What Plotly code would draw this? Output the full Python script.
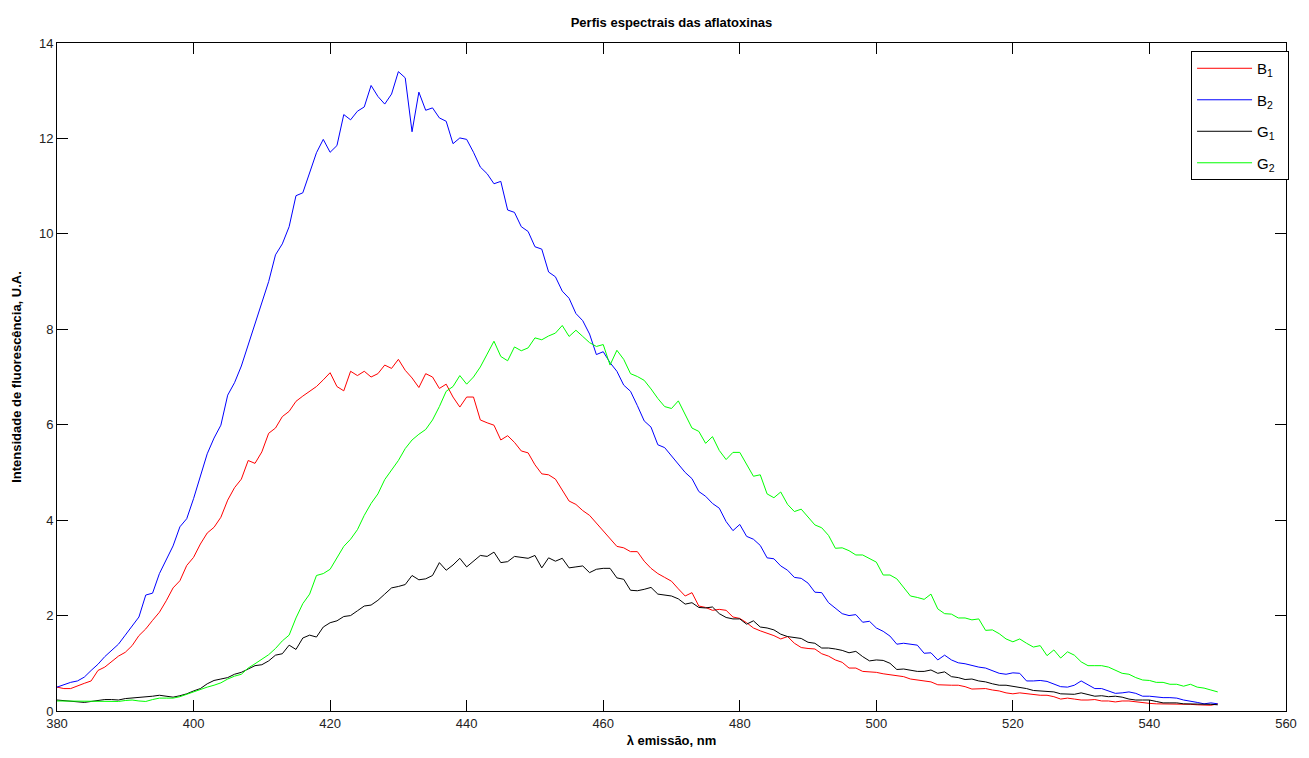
import plotly.graph_objects as go

wavelength = list(range(380, 551))

b1 = [0.50, 0.47, 0.47, 0.53, 0.58, 0.63, 0.85, 0.92, 1.03, 1.15,
      1.23, 1.37, 1.58, 1.72, 1.90, 2.07, 2.31, 2.58, 2.73, 3.05,
      3.22, 3.50, 3.73, 3.85, 4.06, 4.42, 4.68, 4.86, 5.25, 5.19,
      5.43, 5.82, 5.93, 6.17, 6.28, 6.49, 6.60, 6.70, 6.80, 6.94,
      7.09, 6.80, 6.71, 7.12, 7.03, 7.12, 7.00, 7.07, 7.25, 7.18,
      7.37, 7.14, 6.98, 6.78, 7.07, 7.00, 6.76, 6.85, 6.58, 6.37,
      6.58, 6.58, 6.10, 6.04, 5.99, 5.68, 5.77, 5.63, 5.45, 5.41,
      5.16, 4.97, 4.95, 4.86, 4.62, 4.40, 4.33, 4.20, 4.10, 3.94,
      3.78, 3.61, 3.45, 3.42, 3.34, 3.34, 3.14, 2.99, 2.88, 2.80,
      2.72, 2.56, 2.41, 2.48, 2.20, 2.17, 2.11, 2.13, 2.11, 1.97,
      1.94, 1.85, 1.74, 1.68, 1.63, 1.58, 1.51, 1.56, 1.42, 1.33,
      1.31, 1.30, 1.20, 1.15, 1.07, 1.02, 0.90, 0.90, 0.83, 0.82,
      0.81, 0.78, 0.76, 0.74, 0.72, 0.67, 0.65, 0.63, 0.61, 0.55,
      0.54, 0.54, 0.54, 0.51, 0.46, 0.46, 0.47, 0.44, 0.42, 0.38,
      0.36, 0.38, 0.36, 0.34, 0.33, 0.33, 0.30, 0.25, 0.27, 0.25,
      0.23, 0.23, 0.24, 0.21, 0.21, 0.19, 0.21, 0.21, 0.19, 0.17,
      0.16, 0.15, 0.15, 0.14, 0.14, 0.14, 0.14, 0.13, 0.12, 0.12, 0.15]

b2 = [0.50, 0.55, 0.60, 0.63, 0.71, 0.85, 0.98, 1.14, 1.28, 1.40,
      1.59, 1.77, 1.97, 2.43, 2.47, 2.88, 3.16, 3.46, 3.86, 4.03,
      4.45, 4.93, 5.39, 5.72, 5.99, 6.62, 6.88, 7.23, 7.67, 8.09,
      8.53, 9.00, 9.56, 9.79, 10.15, 10.80, 10.86, 11.30, 11.70, 11.98,
      11.71, 11.85, 12.50, 12.39, 12.57, 12.66, 13.11, 12.88, 12.72, 12.93,
      13.40, 13.27, 12.14, 12.97, 12.59, 12.64, 12.43, 12.36, 11.89, 12.01,
      11.98, 11.71, 11.40, 11.26, 11.05, 11.10, 10.50, 10.45, 10.15, 10.05,
      9.73, 9.68, 9.20, 9.10, 8.80, 8.65, 8.33, 8.18, 7.90, 7.47,
      7.53, 7.30, 7.12, 6.83, 6.70, 6.40, 6.08, 5.95, 5.58, 5.52,
      5.35, 5.19, 5.00, 4.87, 4.60, 4.50, 4.35, 4.25, 3.97, 3.78,
      3.91, 3.66, 3.60, 3.47, 3.21, 3.19, 3.04, 2.95, 2.80, 2.78,
      2.68, 2.49, 2.48, 2.27, 2.16, 2.04, 2.00, 2.02, 1.86, 1.88,
      1.74, 1.67, 1.57, 1.40, 1.42, 1.40, 1.38, 1.21, 1.22, 1.07,
      1.17, 1.07, 1.01, 0.99, 0.95, 0.92, 0.90, 0.85, 0.79, 0.77,
      0.80, 0.79, 0.63, 0.63, 0.64, 0.62, 0.57, 0.51, 0.50, 0.54,
      0.63, 0.55, 0.47, 0.47, 0.42, 0.37, 0.38, 0.40, 0.37, 0.31,
      0.31, 0.29, 0.28, 0.28, 0.27, 0.23, 0.21, 0.18, 0.15, 0.17, 0.15]

g1 = [0.23, 0.22, 0.20, 0.19, 0.18, 0.20, 0.22, 0.24, 0.24, 0.23,
      0.26, 0.27, 0.29, 0.30, 0.31, 0.33, 0.31, 0.29, 0.32, 0.36,
      0.42, 0.47, 0.57, 0.64, 0.67, 0.70, 0.77, 0.81, 0.88, 0.95,
      0.97, 1.05, 1.17, 1.20, 1.38, 1.29, 1.53, 1.59, 1.55, 1.76,
      1.85, 1.89, 1.98, 2.00, 2.10, 2.20, 2.22, 2.32, 2.45, 2.58,
      2.61, 2.65, 2.84, 2.75, 2.77, 2.84, 3.11, 2.95, 3.06, 3.20,
      3.02, 3.13, 3.26, 3.24, 3.33, 3.11, 3.13, 3.24, 3.22, 3.20,
      3.26, 3.00, 3.21, 3.14, 3.20, 3.00, 3.02, 3.04, 2.90, 2.97,
      2.99, 2.99, 2.79, 2.76, 2.53, 2.52, 2.55, 2.59, 2.45, 2.43,
      2.41, 2.35, 2.24, 2.27, 2.17, 2.16, 2.18, 2.04, 1.96, 1.93,
      1.93, 1.82, 1.89, 1.76, 1.74, 1.70, 1.61, 1.56, 1.54, 1.52,
      1.44, 1.42, 1.32, 1.32, 1.30, 1.27, 1.22, 1.25, 1.14, 1.05,
      1.07, 1.06, 1.00, 0.87, 0.88, 0.86, 0.83, 0.83, 0.86, 0.79,
      0.82, 0.72, 0.70, 0.66, 0.67, 0.63, 0.61, 0.57, 0.54, 0.54,
      0.52, 0.50, 0.47, 0.43, 0.42, 0.42, 0.40, 0.36, 0.35, 0.35,
      0.38, 0.34, 0.31, 0.32, 0.30, 0.31, 0.29, 0.25, 0.23, 0.23,
      0.23, 0.20, 0.17, 0.17, 0.17, 0.15, 0.15, 0.14, 0.14, 0.14, 0.13]

g2 = [0.21, 0.21, 0.20, 0.20, 0.20, 0.20, 0.20, 0.20, 0.20, 0.20,
      0.22, 0.23, 0.21, 0.20, 0.24, 0.27, 0.27, 0.27, 0.30, 0.35,
      0.41, 0.46, 0.50, 0.54, 0.59, 0.67, 0.73, 0.77, 0.90, 0.99,
      1.09, 1.18, 1.31, 1.47, 1.59, 1.95, 2.25, 2.45, 2.84, 2.88,
      2.97, 3.20, 3.45, 3.60, 3.80, 4.10, 4.35, 4.55, 4.85, 5.05,
      5.25, 5.50, 5.68, 5.80, 5.90, 6.10, 6.38, 6.70, 6.80, 7.03,
      6.85, 7.00, 7.21, 7.48, 7.75, 7.43, 7.34, 7.63, 7.55, 7.61,
      7.82, 7.78, 7.86, 7.92, 8.08, 7.85, 7.98, 7.85, 7.72, 7.64,
      7.68, 7.25, 7.56, 7.37, 7.07, 7.01, 6.93, 6.75, 6.55, 6.38,
      6.34, 6.50, 6.20, 5.93, 5.86, 5.61, 5.75, 5.46, 5.27, 5.42,
      5.42, 5.16, 4.92, 4.95, 4.55, 4.47, 4.59, 4.33, 4.18, 4.23,
      4.06, 3.90, 3.84, 3.68, 3.41, 3.42, 3.36, 3.27, 3.27, 3.20,
      3.12, 2.85, 2.85, 2.77, 2.60, 2.41, 2.38, 2.34, 2.45, 2.14,
      2.04, 2.03, 1.95, 1.95, 1.91, 1.93, 1.69, 1.70, 1.62, 1.51,
      1.45, 1.51, 1.42, 1.34, 1.37, 1.16, 1.28, 1.11, 1.24, 1.17,
      1.03, 0.95, 0.95, 0.95, 0.92, 0.85, 0.79, 0.77, 0.70, 0.65,
      0.64, 0.60, 0.60, 0.56, 0.56, 0.52, 0.56, 0.50, 0.48, 0.44, 0.40]

series_names = ["B<sub>1</sub>", "B<sub>2</sub>", "G<sub>1</sub>", "G<sub>2</sub>"]
series_colors = ["#ff0000", "#0000ff", "#000000", "#00ff00"]
series_values = [b1, b2, g1, g2]

x_ticks = list(range(380, 561, 20))
y_ticks = list(range(0, 15, 2))

fig = go.Figure()
for i, (name, color, vals) in enumerate(zip(series_names, series_colors, series_values)):
    fig.add_trace(go.Scatter(x=wavelength, y=vals, mode="lines", name=name + "  ",
                             legendgroup=f"g{i}",
                             line=dict(color=color, width=1)))

axis_common = dict(showline=True, linecolor="black", linewidth=1, mirror="ticks",
                   ticks="inside", ticklen=11, tickcolor="black", tickwidth=1,
                   showgrid=False, zeroline=False,
                   tickfont=dict(family="Liberation Sans, Arial, sans-serif", size=13, color="#222222"))

fig.update_layout(
    width=1309, height=758,
    margin=dict(l=57, r=12, t=43, b=44),
    paper_bgcolor="white", plot_bgcolor="white",
    title=dict(text="<b>Perfis espectrais das aflatoxinas</b>",
               font=dict(family="Liberation Sans, Arial, sans-serif", size=13, color="black"),
               x=0.5, xref="paper", xanchor="center", y=1 - 22 / 758, yanchor="middle"),
    xaxis=dict(range=[380, 560], tickvals=x_ticks,
               title=dict(text="<b>λ emissão, nm</b>", standoff=6,
                          font=dict(family="Liberation Sans, Arial, sans-serif", size=13, color="black")),
               **axis_common),
    yaxis=dict(range=[0, 14], tickvals=y_ticks,
               title=dict(text="<b>Intensidade de fluorescência, U.A.</b>", standoff=14,
                          font=dict(family="Liberation Sans Narrow, Liberation Sans, Arial, sans-serif", size=13, color="black")),
               **axis_common),
    legend=dict(x=1.0025, y=0.988, xanchor="right", yanchor="top",
                bgcolor="white", bordercolor="black", borderwidth=1,
                font=dict(family="Liberation Sans, Arial, sans-serif", size=15, color="black"),
                tracegroupgap=9, itemwidth=55),
    showlegend=True,
)

fig.write_html("out.html")
